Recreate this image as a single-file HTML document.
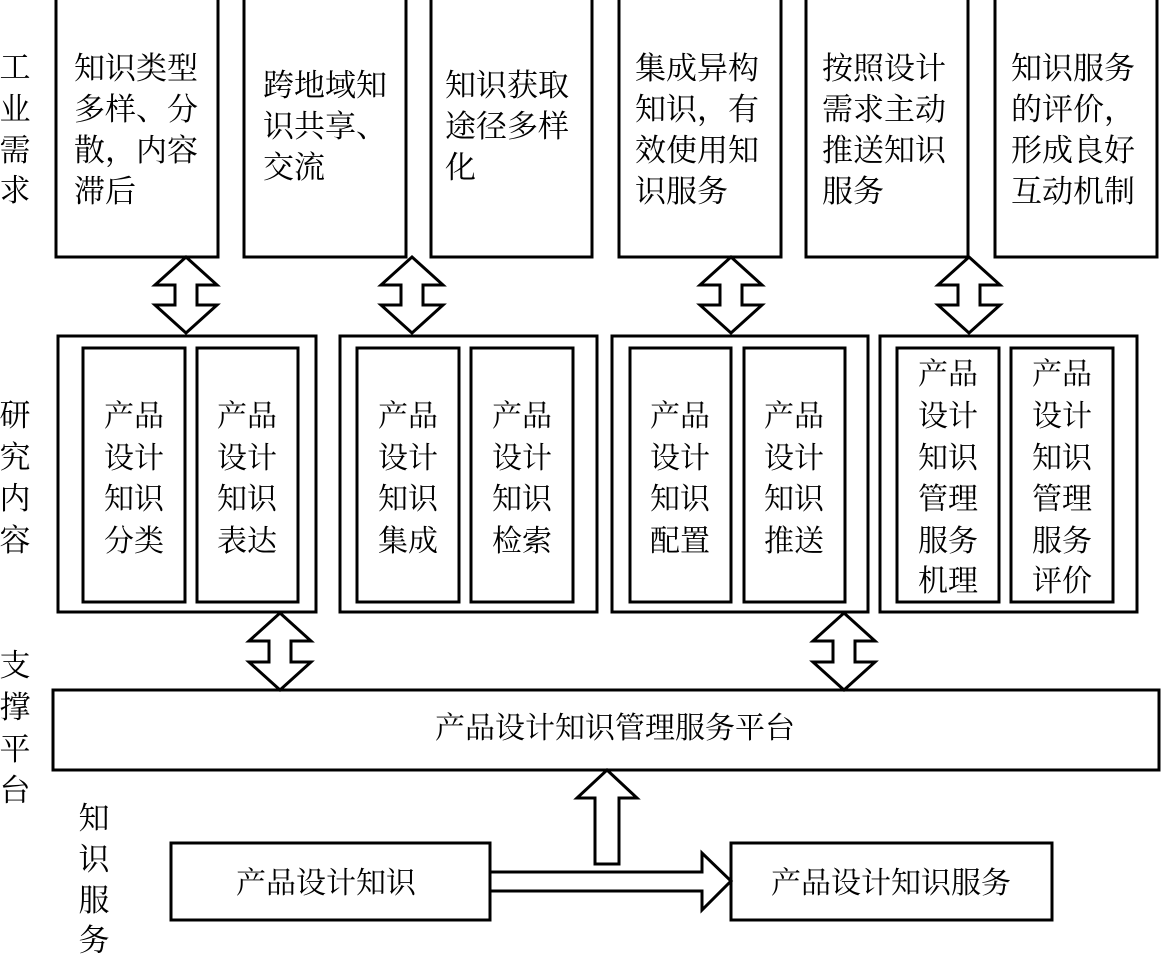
<!DOCTYPE html>
<html><head><meta charset="utf-8"><style>
html,body{margin:0;padding:0;background:#fff;width:1161px;height:955px;overflow:hidden}
svg{display:block}
text{font-family:"Liberation Serif","Noto Serif CJK SC","Noto Sans CJK SC",serif;fill:#000}
</style></head><body>
<svg width="1161" height="955" xmlns="http://www.w3.org/2000/svg">
<g fill="none" stroke="#000" stroke-width="3">
<rect x="56" y="-2" width="162" height="259"/>
<rect x="244" y="-2" width="162" height="259"/>
<rect x="431" y="-2" width="161" height="259"/>
<rect x="619" y="-2" width="162" height="259"/>
<rect x="806" y="-2" width="162" height="259"/>
<rect x="995" y="-2" width="162" height="259"/>
<rect x="58" y="336" width="258" height="276"/>
<rect x="83" y="348" width="102" height="254"/>
<rect x="197" y="348" width="101" height="254"/>
<rect x="340" y="336" width="257" height="276"/>
<rect x="357" y="348" width="102" height="254"/>
<rect x="471" y="348" width="102" height="254"/>
<rect x="612" y="336" width="256" height="276"/>
<rect x="630" y="348" width="101" height="254"/>
<rect x="744" y="348" width="101" height="254"/>
<rect x="880" y="336" width="257" height="276"/>
<rect x="897" y="348" width="102" height="254"/>
<rect x="1011" y="348" width="102" height="254"/>
<rect x="53" y="690" width="1106" height="80"/>
<rect x="171" y="843" width="319" height="77"/>
<rect x="731" y="843" width="321" height="77"/>
<polygon points="186,257 217,285 197,285 197,305 217,305 186,333 155,305 175,305 175,285 155,285"/>
<polygon points="412,257 443,285 423,285 423,305 443,305 412,333 381,305 401,305 401,285 381,285"/>
<polygon points="731,257 762,285 742,285 742,305 762,305 731,333 700,305 720,305 720,285 700,285"/>
<polygon points="969,257 1000,285 980,285 980,305 1000,305 969,333 938,305 958,305 958,285 938,285"/>
<polygon points="280,613 311,641 291,641 291,662 311,662 280,690 249,662 269,662 269,641 249,641"/>
<polygon points="844,613 875,641 855,641 855,662 875,662 844,690 813,662 833,662 833,641 813,641"/>
<polygon points="607,770 637,798 619,798 619,864 595,864 595,798 577,798"/>
<polygon points="490,872 702,872 702,853 731,881 702,910 702,891 490,891"/>
</g>
<g font-size="31">
<text x="15" y="78" text-anchor="middle">工</text>
<text x="15" y="120" text-anchor="middle">业</text>
<text x="15" y="161" text-anchor="middle">需</text>
<text x="15" y="201" text-anchor="middle">求</text>
<text x="15" y="426" text-anchor="middle">研</text>
<text x="15" y="468" text-anchor="middle">究</text>
<text x="15" y="509" text-anchor="middle">内</text>
<text x="15" y="551" text-anchor="middle">容</text>
<text x="15" y="676" text-anchor="middle">支</text>
<text x="15" y="718" text-anchor="middle">撑</text>
<text x="15" y="760" text-anchor="middle">平</text>
<text x="15" y="801" text-anchor="middle">台</text>
<text x="94" y="829" text-anchor="middle">知</text>
<text x="94" y="870" text-anchor="middle">识</text>
<text x="94" y="911" text-anchor="middle">服</text>
<text x="94" y="951" text-anchor="middle">务</text>

<text x="74" y="79">知识类型</text>
<text x="74" y="120">多样、分</text>
<text x="74" y="161">散，内容</text>
<text x="74" y="202">滞后</text>

<text x="263" y="96">跨地域知</text>
<text x="263" y="137">识共享、</text>
<text x="263" y="178">交流</text>

<text x="445" y="96">知识获取</text>
<text x="445" y="137">途径多样</text>
<text x="445" y="178">化</text>

<text x="635" y="79">集成异构</text>
<text x="635" y="120">知识，有</text>
<text x="635" y="161">效使用知</text>
<text x="635" y="202">识服务</text>

<text x="822" y="79">按照设计</text>
<text x="822" y="120">需求主动</text>
<text x="822" y="161">推送知识</text>
<text x="822" y="202">服务</text>

<text x="1011" y="79">知识服务</text>
<text x="1011" y="120">的评价，</text>
<text x="1011" y="161">形成良好</text>
<text x="1011" y="202">互动机制</text>
</g>
<g font-size="30" text-anchor="middle">
<text x="134" y="426">产品</text><text x="134" y="468">设计</text><text x="134" y="509">知识</text><text x="134" y="551">分类</text>
<text x="247" y="426">产品</text><text x="247" y="468">设计</text><text x="247" y="509">知识</text><text x="247" y="551">表达</text>
<text x="408" y="426">产品</text><text x="408" y="468">设计</text><text x="408" y="509">知识</text><text x="408" y="551">集成</text>
<text x="522" y="426">产品</text><text x="522" y="468">设计</text><text x="522" y="509">知识</text><text x="522" y="551">检索</text>
<text x="680" y="426">产品</text><text x="680" y="468">设计</text><text x="680" y="509">知识</text><text x="680" y="551">配置</text>
<text x="794" y="426">产品</text><text x="794" y="468">设计</text><text x="794" y="509">知识</text><text x="794" y="551">推送</text>
<text x="948" y="384">产品</text><text x="948" y="426">设计</text><text x="948" y="468">知识</text><text x="948" y="509">管理</text><text x="948" y="551">服务</text><text x="948" y="591">机理</text>
<text x="1062" y="384">产品</text><text x="1062" y="426">设计</text><text x="1062" y="468">知识</text><text x="1062" y="509">管理</text><text x="1062" y="551">服务</text><text x="1062" y="591">评价</text>
<text x="615" y="738">产品设计知识管理服务平台</text>
<text x="326" y="893">产品设计知识</text>
<text x="891" y="893">产品设计知识服务</text>
</g>
</svg>
</body></html>
